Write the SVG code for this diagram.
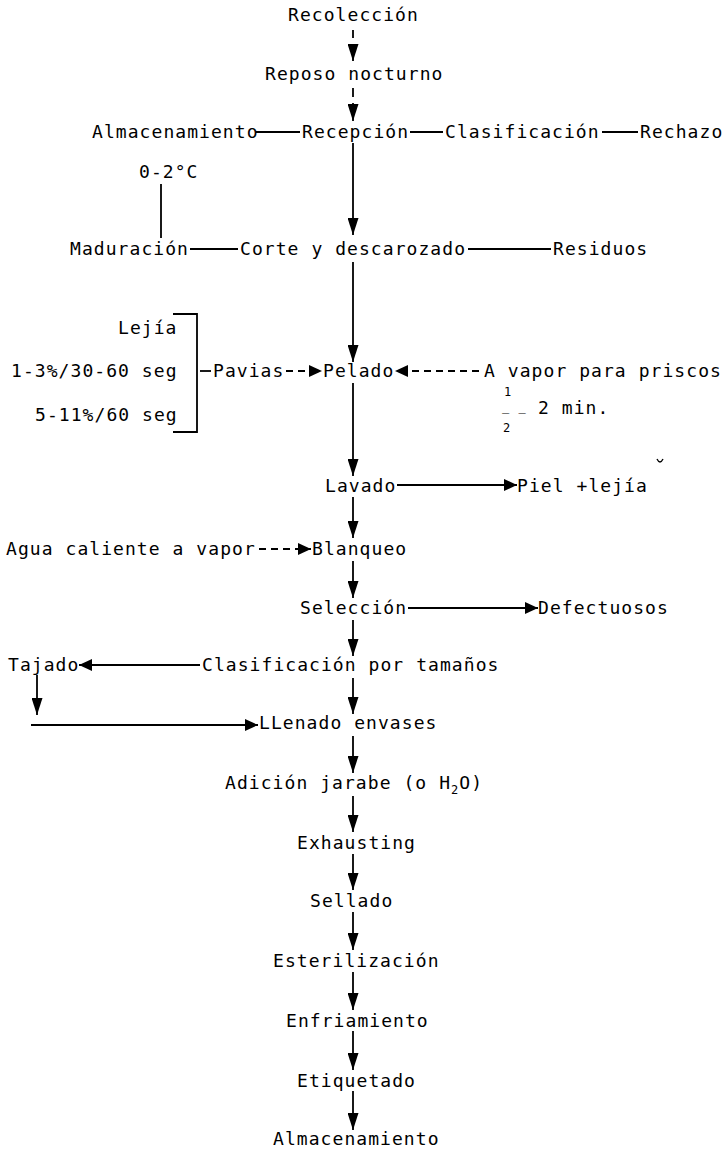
<svg xmlns="http://www.w3.org/2000/svg" width="727" height="1150" viewBox="0 0 727 1150">
<style>
text { font-family: "DejaVu Sans Mono", "Liberation Mono", monospace; font-size: 18px; letter-spacing: 1.06px; fill: #000; }
.sm { font-size: 12px; }
#connectors line, #connectors path { stroke: #000; stroke-width: 1.8; fill: none; }
#connectors .d { stroke-dasharray: 7 5; }
.v { marker-end: url(#av); }
.h { marker-end: url(#ah); }
</style>
<defs>
<marker id="av" markerUnits="userSpaceOnUse" markerWidth="17" markerHeight="11" refX="17" refY="5.5" orient="auto" viewBox="0 0 17 11"><path d="M0,0 L17,5.5 L0,11 z" fill="#000"/></marker>
<marker id="ah" markerUnits="userSpaceOnUse" markerWidth="13" markerHeight="12" refX="13" refY="6" orient="auto" viewBox="0 0 13 12"><path d="M0,0 L13,6 L0,12 z" fill="#000"/></marker>
</defs>
<rect width="727" height="1150" fill="#fff"/>

<g id="connectors">
<line x1="353" y1="30" x2="353" y2="38"/>
<line class="v" x1="353" y1="44" x2="353" y2="61"/>
<line x1="353" y1="88" x2="353" y2="97"/>
<line class="v" x1="353" y1="103" x2="353" y2="121"/>
<line x1="256" y1="132" x2="300" y2="132"/>
<line x1="410" y1="132" x2="443" y2="132"/>
<line x1="602" y1="132" x2="638" y2="132"/>
<line class="v" x1="353" y1="143" x2="353" y2="235"/>
<line x1="161" y1="184" x2="161" y2="238"/>
<line x1="190" y1="249" x2="238" y2="249"/>
<line x1="468" y1="249" x2="551" y2="249"/>
<line class="v" x1="353" y1="262" x2="353" y2="362"/>
<path d="M173,314 H197 V432 H173"/>
<line x1="200" y1="371" x2="211" y2="371"/>
<line class="d h" x1="286" y1="371" x2="322" y2="371"/>
<line class="d h" x1="479" y1="371" x2="395" y2="371"/>
<line class="v" x1="353" y1="383" x2="353" y2="476"/>
<line class="h" x1="397" y1="485" x2="517" y2="485"/>
<line class="v" x1="353" y1="497" x2="353" y2="538"/>
<line class="d h" x1="259" y1="549" x2="311" y2="549"/>
<line class="v" x1="353" y1="561" x2="353" y2="598"/>
<line class="h" x1="408" y1="608" x2="538" y2="608"/>
<line class="v" x1="353" y1="620" x2="353" y2="656"/>
<line class="h" x1="200" y1="665" x2="79" y2="665"/>
<line class="v" x1="37" y1="675" x2="37" y2="715"/>
<line class="h" x1="31" y1="725" x2="258" y2="725"/>
<line class="v" x1="353" y1="678" x2="353" y2="714"/>
<line class="v" x1="353" y1="736" x2="353" y2="773"/>
<line class="v" x1="353" y1="796" x2="353" y2="832"/>
<line class="v" x1="353" y1="854" x2="353" y2="890"/>
<line class="v" x1="353" y1="912" x2="353" y2="950"/>
<line class="v" x1="353" y1="972" x2="353" y2="1010"/>
<line class="v" x1="353" y1="1031" x2="353" y2="1070"/>
<line class="v" x1="353" y1="1091" x2="353" y2="1130"/>
<path d="M657,459 q3,6 6,0" style="stroke-width:1.4"/>
</g>

<g id="recoleccion"><text x="288" y="21">Recolección</text></g>
<g id="reposo"><text x="265" y="80">Reposo nocturno</text></g>
<g id="almacenamiento1"><text x="92" y="138">Almacenamiento</text></g>
<g id="recepcion"><text x="302" y="138">Recepción</text></g>
<g id="clasificacion"><text x="445" y="138">Clasificación</text></g>
<g id="rechazo"><text x="640" y="138">Rechazo</text></g>
<g id="temp"><text x="139" y="178">0-2°C</text></g>
<g id="maduracion"><text x="70" y="255">Maduración</text></g>
<g id="corte"><text x="240" y="255">Corte y descarozado</text></g>
<g id="residuos"><text x="553" y="255">Residuos</text></g>
<g id="lejia">
<text x="118" y="334">Lejía</text>
<text x="11" y="377">1-3%/30-60 seg</text>
<text x="35" y="421">5-11%/60 seg</text>
</g>
<g id="pavias"><text x="213" y="377">Pavias</text></g>
<g id="pelado"><text x="323" y="377">Pelado</text></g>
<g id="vapor">
<text x="484" y="377">A vapor para priscos</text>
<text class="sm" x="504" y="396">1</text>
<text class="sm" x="502" y="411">_ _</text>
<text x="538" y="414">2 min.</text>
<text class="sm" x="503" y="432">2</text>
</g>
<g id="lavado"><text x="325" y="492">Lavado</text></g>
<g id="piel"><text x="517" y="492">Piel +lejía</text></g>
<g id="agua"><text x="6" y="555">Agua caliente a vapor</text></g>
<g id="blanqueo"><text x="312" y="555">Blanqueo</text></g>
<g id="seleccion"><text x="300" y="614">Selección</text></g>
<g id="defectuosos"><text x="538" y="614">Defectuosos</text></g>
<g id="tajado"><text x="8" y="671">Tajado</text></g>
<g id="clasif-tamanos"><text x="202" y="671">Clasificación por tamaños</text></g>
<g id="llenado"><text x="259" y="729">LLenado envases</text></g>
<g id="adicion"><text x="225" y="789">Adición jarabe (o H<tspan class="sm" dy="5">2</tspan><tspan dy="-5">O)</tspan></text></g>
<g id="exhausting"><text x="297" y="849">Exhausting</text></g>
<g id="sellado"><text x="310" y="907">Sellado</text></g>
<g id="esterilizacion"><text x="273" y="967">Esterilización</text></g>
<g id="enfriamiento"><text x="286" y="1027">Enfriamiento</text></g>
<g id="etiquetado"><text x="297" y="1087">Etiquetado</text></g>
<g id="almacenamiento2"><text x="273" y="1145">Almacenamiento</text></g>
</svg>
